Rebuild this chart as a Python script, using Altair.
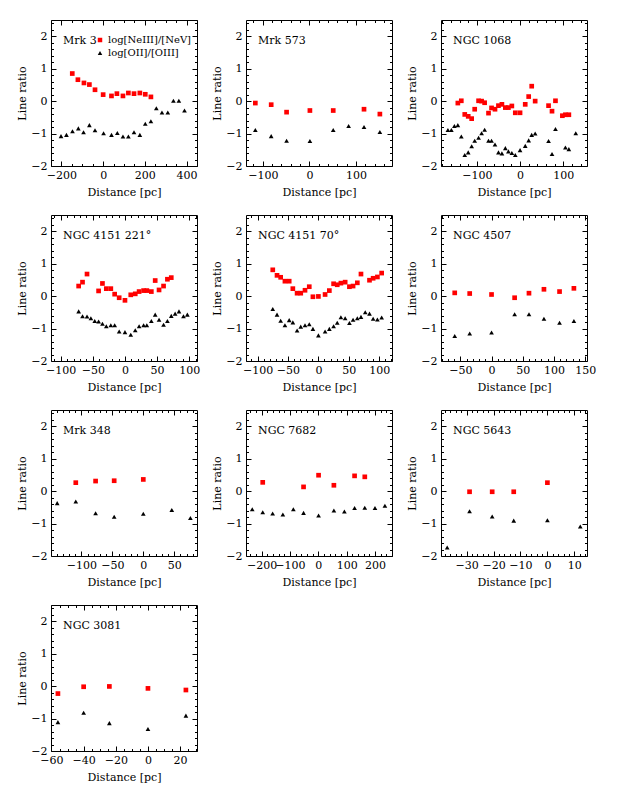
import altair as alt
import pandas as pd
import numpy as np

FONT = "DejaVu Serif"
NE = "log[NeIII]/[NeV]"
OX = "log[OII]/[OIII]"

# ---------------- data ----------------
mrk3_ne_x = [-148, -121, -92, -66, -39, 0, 40, 66, 95, 121, 148, 176, 202, 229]
mrk3_ne_y = [0.85, 0.66, 0.56, 0.51, 0.35, 0.20, 0.16, 0.23, 0.16, 0.25, 0.23, 0.25, 0.21, 0.13]
mrk3_o_x = [-202, -176, -147, -119, -94, -66, -39, 2, 40, 68, 95, 121, 148, 176, 202, 229, 255, 282, 310, 337, 363, 390]
mrk3_o_y = [-1.08, -1.04, -0.93, -0.84, -0.96, -0.74, -0.90, -0.99, -1.04, -0.98, -1.09, -1.09, -0.96, -1.04, -0.70, -0.62, -0.22, -0.35, -0.35, 0.01, 0.01, -0.29]

mrk573_ne_x = [-116, -82, -49, 1, 51, 117, 151]
mrk573_ne_y = [-0.06, -0.11, -0.34, -0.29, -0.29, -0.25, -0.40]
mrk573_o_x = [-116, -82, -49, 1, 51, 84, 117, 151]
mrk573_o_y = [-0.89, -1.08, -1.22, -1.23, -0.89, -0.77, -0.80, -0.95]

n1068_ne_x = [-144, -136, -128, -120, -112, -105, -96, -89, -82, -73, -66, -58, -50, -42, -34, -27, -19, -11, 0, 12, 20, 27, 35, 66, 74, 82, 98, 105, 113]
n1068_ne_y = [-0.06, 0.01, -0.41, -0.47, -0.54, -0.25, 0.01, 0.00, -0.05, -0.37, -0.21, -0.25, -0.14, -0.10, -0.20, -0.20, -0.15, -0.36, -0.36, -0.10, 0.14, 0.46, 0.00, -0.14, -0.31, 0.01, -0.45, -0.42, -0.42]
n1068_o_x = [-167, -159, -152, -144, -136, -128, -120, -112, -105, -96, -89, -82, -73, -66, -58, -50, -42, -34, -27, -19, -11, 0, 12, 20, 27, 35, 66, 74, 82, 105, 113, 129]
n1068_o_y = [-0.89, -0.89, -0.77, -0.74, -1.09, -1.66, -1.58, -1.39, -1.22, -1.13, -0.99, -0.88, -1.22, -1.22, -1.34, -1.58, -1.61, -1.45, -1.55, -1.60, -1.66, -1.51, -1.38, -1.21, -1.04, -1.00, -1.23, -1.63, -0.86, -1.43, -1.48, -0.99]

n4151a_ne_x = [-72, -66, -59, -41, -35, -29, -22, -16, -9, 0, 9, 16, 22, 29, 34, 41, 47, 53, 60, 66, 72]
n4151a_ne_y = [0.31, 0.43, 0.68, 0.16, 0.39, 0.23, 0.23, 0.06, -0.05, -0.13, 0.04, 0.07, 0.14, 0.17, 0.17, 0.14, 0.48, 0.19, 0.31, 0.52, 0.57]
n4151a_o_x = [-72, -66, -59, -53, -47, -41, -35, -29, -22, -16, -9, 0, 9, 16, 22, 29, 34, 41, 47, 53, 60, 66, 72, 78, 84, 91, 97]
n4151a_o_y = [-0.47, -0.62, -0.63, -0.68, -0.77, -0.78, -0.85, -0.93, -0.90, -0.90, -1.09, -1.11, -1.19, -1.05, -0.93, -0.90, -0.90, -0.77, -0.57, -0.73, -0.88, -0.77, -0.61, -0.54, -0.47, -0.62, -0.57]

n4151b_ne_x = [-75, -68, -62, -55, -48, -42, -35, -29, -22, -15, -9, 0, 11, 18, 25, 31, 37, 44, 51, 57, 64, 70, 84, 90, 97, 104]
n4151b_ne_y = [0.81, 0.64, 0.58, 0.46, 0.46, 0.23, 0.09, 0.09, 0.18, 0.29, -0.02, -0.01, 0.05, 0.17, 0.38, 0.35, 0.40, 0.43, 0.29, 0.31, 0.41, 0.68, 0.49, 0.55, 0.59, 0.71]
n4151b_o_x = [-75, -68, -62, -55, -48, -42, -35, -29, -22, -15, -9, 0, 11, 18, 25, 31, 37, 44, 51, 57, 64, 70, 77, 84, 90, 97, 104]
n4151b_o_y = [-0.40, -0.57, -0.76, -0.90, -0.74, -0.81, -1.06, -0.94, -0.90, -0.87, -1.01, -1.21, -1.09, -1.01, -0.93, -0.82, -0.65, -0.68, -0.83, -0.73, -0.68, -0.64, -0.50, -0.54, -0.70, -0.72, -0.66]

n4507_ne_x = [-59, -35, 0, 37, 60, 84, 109, 132]
n4507_ne_y = [0.10, 0.08, 0.05, -0.05, 0.09, 0.21, 0.14, 0.24]
n4507_o_x = [-59, -35, 0, 37, 60, 84, 109, 132]
n4507_o_y = [-1.23, -1.15, -1.12, -0.56, -0.56, -0.70, -0.82, -0.77]

mrk348_ne_x = [-109, -77, -47, 0]
mrk348_ne_y = [0.26, 0.31, 0.32, 0.36]
mrk348_o_x = [-139, -109, -77, -47, 0, 46, 76]
mrk348_o_y = [-0.37, -0.32, -0.68, -0.79, -0.70, -0.58, -0.83]

n7682_ne_x = [-196, -52, 1, 55, 128, 164]
n7682_ne_y = [0.27, 0.13, 0.49, 0.18, 0.47, 0.44]
n7682_o_x = [-233, -196, -161, -125, -88, -52, 1, 55, 92, 128, 164, 200, 235]
n7682_o_y = [-0.56, -0.65, -0.69, -0.72, -0.56, -0.67, -0.75, -0.60, -0.63, -0.52, -0.51, -0.52, -0.45]

n5643_ne_x = [-28.9, -20.5, -12.5, 0.0]
n5643_ne_y = [-0.02, -0.02, -0.02, 0.26]
n5643_o_x = [-37.2, -28.9, -20.5, -12.5, 0.0, 12.2]
n5643_o_y = [-1.74, -0.62, -0.78, -0.91, -0.90, -1.09]

n3081_ne_x = [-56, -40, -24, 0, 23.6]
n3081_ne_y = [-0.23, -0.02, -0.01, -0.07, -0.12]
n3081_o_x = [-56, -40, -24, 0, 23.6]
n3081_o_y = [-1.11, -0.82, -1.14, -1.32, -0.91]

# name, x-domain, major step, minor step, data
panel_specs = [
    ("Mrk 3", [-250, 450], 200, 50, mrk3_ne_x, mrk3_ne_y, mrk3_o_x, mrk3_o_y),
    ("Mrk 573", [-136, 177], 100, 20, mrk573_ne_x, mrk573_ne_y, mrk573_o_x, mrk573_o_y),
    ("NGC 1068", [-183, 155], 100, 20, n1068_ne_x, n1068_ne_y, n1068_o_x, n1068_o_y),
    ("NGC 4151  221°", [-115, 112], 50, 10, n4151a_ne_x, n4151a_ne_y, n4151a_o_x, n4151a_o_y),
    ("NGC 4151  70°", [-119, 121], 50, 10, n4151b_ne_x, n4151b_ne_y, n4151b_o_x, n4151b_o_y),
    ("NGC 4507", [-81, 153], 50, 10, n4507_ne_x, n4507_ne_y, n4507_o_x, n4507_o_y),
    ("Mrk 348", [-149, 86.7], 50, 10, mrk348_ne_x, mrk348_ne_y, mrk348_o_x, mrk348_o_y),
    ("NGC 7682", [-255, 260], 100, 20, n7682_ne_x, n7682_ne_y, n7682_o_x, n7682_o_y),
    ("NGC 5643", [-39.5, 14.7], 10, 2, n5643_ne_x, n5643_ne_y, n5643_o_x, n5643_o_y),
    ("NGC 3081", [-60.3, 30.5], 20, 5, n3081_ne_x, n3081_ne_y, n3081_o_x, n3081_o_y),
]

YDOM = [-2, 2.5]
W, H = 146, 146
MAJ, MIN = 5, 2.5


def tick_values(lo, hi, step):
    start = np.ceil(lo / step - 1e-9) * step
    vals = np.arange(start, hi + 1e-9, step)
    return [float(round(v, 6)) for v in vals]


def minor_only(lo, hi, step, majors):
    return [v for v in tick_values(lo, hi, step) if not any(abs(v - m) < 1e-6 for m in majors)]


def make_panel(name, xdom, major, minor, ne_x, ne_y, o_x, o_y, legend):
    df = pd.DataFrame({
        "d": list(ne_x) + list(o_x),
        "r": list(ne_y) + list(o_y),
        "s": [NE] * len(ne_x) + [OX] * len(o_x),
    })
    xmaj = tick_values(xdom[0], xdom[1], major)
    xmin = minor_only(xdom[0], xdom[1], minor, xmaj)
    ymaj = tick_values(YDOM[0], YDOM[1], 1)
    ymin = minor_only(YDOM[0], YDOM[1], 0.2, ymaj)

    xs = alt.Scale(domain=xdom, nice=False, zero=False)
    ys = alt.Scale(domain=YDOM, nice=False, zero=False)

    def plain_axis(orient, values, size):
        return alt.Axis(orient=orient, values=values, tickSize=size, offset=-size,
                        domain=False, grid=False, labels=False, title=None,
                        tickColor="black", tickWidth=1)

    x_main = alt.Axis(orient="bottom", values=xmaj, tickSize=MAJ, offset=-MAJ,
                      domain=False, grid=False, format="d", labelPadding=3,
                      minExtent=19, maxExtent=19, titlePadding=6,
                      title="Distance [pc]", tickColor="black", tickWidth=1,
                      labelFlush=False, labelOverlap=False)
    y_main = alt.Axis(orient="left", values=ymaj, tickSize=MAJ, offset=-MAJ,
                      domain=False, grid=False, format="d", labelPadding=4,
                      minExtent=23, maxExtent=23, titlePadding=6,
                      title="Line ratio", tickColor="black", tickWidth=1,
                      labelFlush=False, labelOverlap=False)

    if legend:
        leg = alt.Legend(title=None, orient="none", legendX=44, legendY=15,
                         labelFont=FONT, labelFontSize=10, labelColor="black",
                         symbolSize=20, rowPadding=3, labelOffset=3, padding=0)
    else:
        leg = None

    color = alt.Color("s:N", scale=alt.Scale(domain=[NE, OX], range=["#ff0000", "#000000"]), legend=leg)
    shape = alt.Shape("s:N", scale=alt.Scale(domain=[NE, OX], range=["square", "triangle-up"]), legend=leg)

    pts = alt.Chart(df).mark_point(filled=True, opacity=1, size=22, strokeWidth=0).encode(
        x=alt.X("d:Q", scale=xs, axis=x_main),
        y=alt.Y("r:Q", scale=ys, axis=y_main),
        color=color,
        shape=shape,
    )
    l1 = alt.Chart(df).mark_point(opacity=0).encode(
        x=alt.X("d:Q", scale=xs, axis=plain_axis("top", xmaj, MAJ)),
        y=alt.Y("r:Q", scale=ys, axis=plain_axis("right", ymaj, MAJ)),
    )
    l2 = alt.Chart(df).mark_point(opacity=0).encode(
        x=alt.X("d:Q", scale=xs, axis=plain_axis("bottom", xmin, MIN)),
        y=alt.Y("r:Q", scale=ys, axis=plain_axis("left", ymin, MIN)),
    )
    l3 = alt.Chart(df).mark_point(opacity=0).encode(
        x=alt.X("d:Q", scale=xs, axis=plain_axis("top", xmin, MIN)),
        y=alt.Y("r:Q", scale=ys, axis=plain_axis("right", ymin, MIN)),
    )
    label = alt.Chart(pd.DataFrame({"t": [name]})).mark_text(
        align="left", baseline="middle", font=FONT, fontSize=11, color="black"
    ).encode(x=alt.value(12), y=alt.value(21), text="t:N")

    return alt.layer(pts, l1, l2, l3, label).resolve_axis(
        x="independent", y="independent"
    ).properties(width=W, height=H)


panels = [make_panel(*spec, legend=(i == 0)) for i, spec in enumerate(panel_specs)]

chart = alt.concat(*panels, columns=3, spacing=49, bounds="flush").resolve_scale(
    color="independent", shape="independent"
).properties(
    padding={"left": 7, "top": 11, "right": 5, "bottom": 5},
    background="white",
).configure_view(
    stroke="black", strokeWidth=1
).configure_axis(
    labelFont=FONT, titleFont=FONT, labelFontSize=11, titleFontSize=11,
    titleFontWeight="normal", labelColor="black", titleColor="black"
)

chart.save("out.html", embed_options={"renderer": "svg", "actions": False})
